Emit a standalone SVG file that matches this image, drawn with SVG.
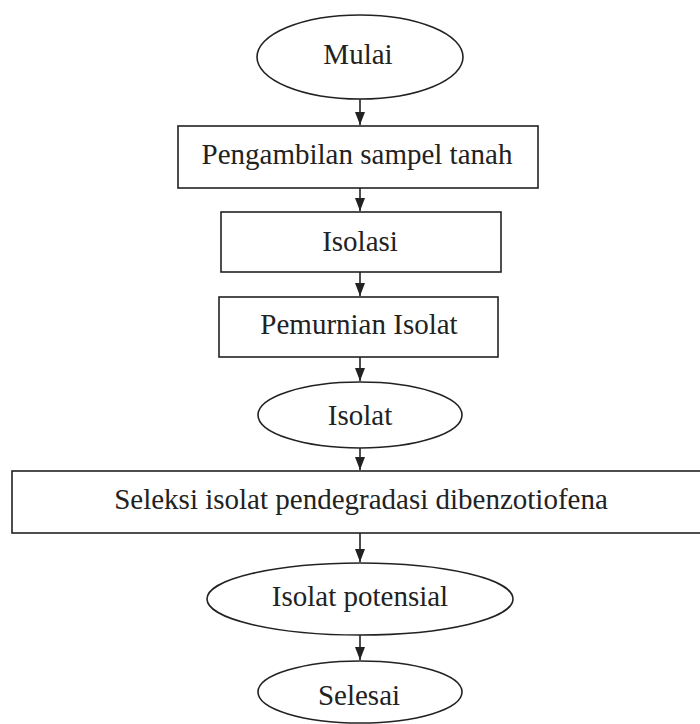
<svg xmlns="http://www.w3.org/2000/svg" width="700" height="724" viewBox="0 0 700 724">
<style>
.shape{fill:#ffffff;stroke:#222;stroke-width:1.6}
.lbl{font-family:"Liberation Serif","Times New Roman",serif;font-size:29px;fill:#222;text-anchor:middle}
.conn{stroke:#222;stroke-width:1.6;fill:none}
</style>
<defs>
<marker id="arr" viewBox="0 0 13 10" refX="13" refY="5" markerWidth="13" markerHeight="10" markerUnits="userSpaceOnUse" orient="auto">
<path d="M0,0 L13,5 L0,10 z" fill="#222"/>
</marker>
</defs>
<rect width="700" height="724" fill="#ffffff"/>
<g id="connectors">
<line class="conn" x1="360" y1="99" x2="360" y2="125" marker-end="url(#arr)"/>
<line class="conn" x1="360" y1="188" x2="360" y2="211" marker-end="url(#arr)"/>
<line class="conn" x1="360" y1="272" x2="360" y2="296" marker-end="url(#arr)"/>
<line class="conn" x1="360" y1="357" x2="360" y2="381" marker-end="url(#arr)"/>
<line class="conn" x1="360" y1="448" x2="360" y2="470" marker-end="url(#arr)"/>
<line class="conn" x1="360" y1="533" x2="360" y2="562" marker-end="url(#arr)"/>
<line class="conn" x1="360" y1="635" x2="360" y2="660" marker-end="url(#arr)"/>
</g>
<g id="mulai">
<ellipse class="shape" cx="360" cy="57" rx="103" ry="42"/>
<text class="lbl" x="358" y="64">Mulai</text>
</g>
<g id="pengambilan">
<rect class="shape" x="178" y="126" width="360" height="62"/>
<text class="lbl" x="357" y="164">Pengambilan sampel tanah</text>
</g>
<g id="isolasi">
<rect class="shape" x="221" y="212" width="280" height="60"/>
<text class="lbl" x="360" y="251">Isolasi</text>
</g>
<g id="pemurnian">
<rect class="shape" x="219" y="297" width="279" height="60"/>
<text class="lbl" x="359" y="334">Pemurnian Isolat</text>
</g>
<g id="isolat">
<ellipse class="shape" cx="360" cy="415" rx="102" ry="33"/>
<text class="lbl" x="360" y="425">Isolat</text>
</g>
<g id="seleksi">
<rect class="shape" x="12" y="471" width="692" height="62"/>
<text class="lbl" x="361" y="509">Seleksi isolat pendegradasi dibenzotiofena</text>
</g>
<g id="isolat-potensial">
<ellipse class="shape" cx="360" cy="599" rx="153" ry="36"/>
<text class="lbl" x="360" y="606">Isolat potensial</text>
</g>
<g id="selesai">
<ellipse class="shape" cx="360" cy="692" rx="102" ry="31"/>
<text class="lbl" x="359" y="705">Selesai</text>
</g>
</svg>
